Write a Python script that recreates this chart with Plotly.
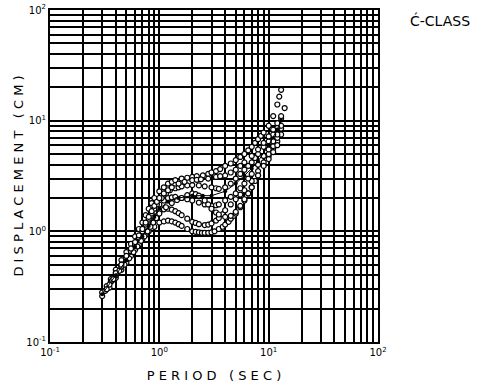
import plotly.graph_objects as go

# ---- data (period in sec, displacement in cm) ----
s1_x = [0.3, 0.33, 0.36, 0.4, 0.45, 0.5, 0.55, 0.6, 0.65, 0.7, 0.75, 0.8, 0.85, 0.9, 1.0, 1.1, 1.2, 1.3, 1.4, 1.6, 1.8, 2.0, 2.2, 2.5, 2.8, 3.0, 3.3, 3.6, 4.0, 4.5, 5.0, 5.5, 6.0, 6.5, 7.0, 7.5, 8.0, 8.5, 9.0, 10, 11, 12, 12.5, 13]
s1_y = [0.28, 0.32, 0.37, 0.45, 0.55, 0.65, 0.77, 0.9, 1.05, 1.2, 1.4, 1.6, 1.8, 2.0, 2.3, 2.5, 2.7, 2.8, 2.9, 3.0, 3.05, 3.1, 3.15, 3.2, 3.3, 3.4, 3.5, 3.65, 3.9, 4.1, 4.4, 4.7, 5.0, 5.4, 5.8, 6.3, 6.8, 7.3, 7.8, 9.0, 11.0, 14.0, 16.5, 19.0]

s2_x = [0.3, 0.35, 0.4, 0.45, 0.5, 0.55, 0.6, 0.65, 0.7, 0.75, 0.8, 0.9, 1.0, 1.1, 1.2, 1.3, 1.4, 1.5, 1.6, 1.8, 2.0, 2.15, 2.3, 2.45, 2.6, 2.8, 3.0, 3.2, 3.5, 3.8, 4.0, 4.3, 4.5, 4.8, 5.0, 5.5, 6.0, 6.5, 7.0, 7.5, 8.0, 9.0, 10, 11, 12, 13]
s2_y = [0.26, 0.31, 0.38, 0.45, 0.52, 0.6, 0.68, 0.76, 0.85, 0.93, 1.0, 1.1, 1.2, 1.23, 1.25, 1.23, 1.2, 1.16, 1.12, 1.05, 1.0, 0.99, 0.98, 0.97, 0.97, 0.97, 0.98, 1.0, 1.05, 1.1, 1.15, 1.22, 1.3, 1.38, 1.45, 1.65, 1.9, 2.2, 2.5, 2.85, 3.2, 4.0, 4.8, 5.6, 6.5, 7.5]

s3_x = [0.32, 0.36, 0.4, 0.45, 0.5, 0.55, 0.6, 0.65, 0.7, 0.75, 0.8, 0.85, 0.9, 1.0, 1.1, 1.2, 1.3, 1.4, 1.5, 1.6, 1.8, 2.0, 2.15, 2.3, 2.6, 2.8, 3.0, 3.3, 3.5, 3.8, 4.0, 4.5, 5.0, 5.5, 6.0, 7.0, 8.0, 9.0, 10, 11, 12, 13]
s3_y = [0.29, 0.35, 0.42, 0.5, 0.58, 0.68, 0.78, 0.87, 0.95, 1.05, 1.15, 1.25, 1.35, 1.5, 1.58, 1.6, 1.57, 1.52, 1.46, 1.4, 1.3, 1.22, 1.19, 1.16, 1.14, 1.15, 1.18, 1.25, 1.32, 1.43, 1.55, 1.75, 1.95, 2.15, 2.35, 2.85, 3.5, 4.2, 5.0, 5.9, 7.0, 8.5]

s4_x = [0.33, 0.37, 0.4, 0.45, 0.5, 0.55, 0.6, 0.65, 0.7, 0.75, 0.8, 0.85, 0.9, 1.0, 1.1, 1.2, 1.3, 1.4, 1.6, 1.8, 2.0, 2.3, 2.6, 3.0, 3.3, 3.5, 4.0, 4.5, 5.0, 5.5, 6.0, 6.5, 7.0, 8.0, 9.0, 10, 11, 12, 13]
s4_y = [0.3, 0.36, 0.4, 0.48, 0.56, 0.66, 0.75, 0.86, 0.98, 1.1, 1.25, 1.38, 1.5, 1.75, 1.9, 2.0, 2.03, 2.05, 2.0, 1.95, 1.9, 1.82, 1.75, 1.7, 1.72, 1.75, 1.9, 2.05, 2.2, 2.45, 2.7, 3.0, 3.3, 4.0, 4.8, 5.5, 6.5, 7.5, 9.0]

s5_x = [0.35, 0.4, 0.45, 0.5, 0.55, 0.6, 0.65, 0.7, 0.75, 0.8, 0.85, 0.9, 0.95, 1.05, 1.15, 1.25, 1.4, 1.5, 1.6, 1.8, 2.0, 2.3, 2.6, 3.0, 3.3, 3.5, 4.0, 4.5, 5.0, 5.5, 6.0, 6.5, 7.0, 7.5, 8.0, 9.0, 10, 11, 12, 13]
s5_y = [0.33, 0.4, 0.48, 0.57, 0.66, 0.77, 0.88, 1.0, 1.15, 1.3, 1.45, 1.6, 1.75, 2.0, 2.2, 2.35, 2.45, 2.5, 2.55, 2.6, 2.62, 2.6, 2.55, 2.5, 2.45, 2.42, 2.5, 2.7, 3.0, 3.3, 3.6, 3.9, 4.2, 4.6, 5.0, 5.8, 6.5, 7.5, 8.6, 10.5]

s6_x = [0.38, 0.43, 0.48, 0.53, 0.58, 0.63, 0.68, 0.73, 0.78, 0.83, 0.88, 0.94, 1.0, 1.15, 1.3, 1.45, 1.6, 1.8, 2.0, 2.15, 2.3, 2.6, 2.8, 3.0, 3.3, 3.5, 4.0, 4.5, 5.0, 5.5, 6.0, 6.5, 7.0, 8.0, 9.0, 10, 11, 12]
s6_y = [0.37, 0.44, 0.5, 0.57, 0.65, 0.73, 0.82, 0.9, 1.0, 1.1, 1.2, 1.32, 1.45, 1.65, 1.8, 1.92, 2.0, 2.12, 2.2, 2.17, 2.1, 1.9, 1.75, 1.6, 1.48, 1.42, 1.35, 1.38, 1.5, 1.7, 1.95, 2.2, 2.5, 3.2, 3.9, 4.5, 5.2, 6.0]

s7_x = [0.4, 0.45, 0.5, 0.55, 0.6, 0.65, 0.7, 0.75, 0.8, 0.85, 0.9, 0.95, 1.0, 1.1, 1.2, 1.3, 1.5, 1.7, 2.0, 2.2, 2.4, 2.8, 3.3, 3.6, 4.0, 4.5, 5.0, 5.5, 6.0, 7.0, 8.0, 9.0, 10, 11, 12, 13, 14]
s7_y = [0.42, 0.5, 0.6, 0.7, 0.8, 0.92, 1.05, 1.2, 1.35, 1.52, 1.7, 1.85, 2.0, 2.2, 2.35, 2.5, 2.7, 2.8, 2.9, 2.92, 2.95, 3.0, 3.1, 3.15, 3.2, 3.4, 3.6, 3.9, 4.2, 4.8, 5.5, 6.3, 7.2, 8.3, 9.5, 11.0, 13.0]

mean_x = [0.3, 0.4, 0.5, 0.6, 0.7, 0.8, 0.9, 1.0, 1.2, 1.5, 2.0, 2.5, 3.0, 4.0, 5.0, 6.0, 7.0, 8.0, 10, 12, 13]
mean_y = [0.27, 0.4, 0.55, 0.72, 0.9, 1.12, 1.35, 1.6, 1.85, 2.0, 2.1, 2.1, 2.1, 2.3, 2.7, 3.2, 3.7, 4.3, 6.0, 8.3, 10.0]

grid_vals = [0.1, 0.2, 0.3, 0.4, 0.5, 0.6, 0.7, 0.8, 0.9,
             1, 2, 3, 4, 5, 6, 7, 8, 9,
             10, 20, 30, 40, 50, 60, 70, 80, 90, 100]
decade_labels = {0.1: "10<sup>-1</sup>", 1: "10<sup>0</sup>", 10: "10<sup>1</sup>", 100: "10<sup>2</sup>"}
tick_text = [decade_labels.get(v, "") for v in grid_vals]

series = [(s1_x, s1_y), (s2_x, s2_y), (s3_x, s3_y), (s4_x, s4_y),
          (s5_x, s5_y), (s6_x, s6_y), (s7_x, s7_y)]

fig = go.Figure()
for sx, sy in series:
    fig.add_trace(go.Scatter(
        x=sx, y=sy, mode="markers",
        marker=dict(symbol="circle", size=5, color="white",
                    line=dict(color="black", width=1.2)),
        showlegend=False, hoverinfo="skip"))

fig.add_trace(go.Scatter(
    x=mean_x, y=mean_y, mode="lines+markers",
    line=dict(color="black", width=1),
    marker=dict(symbol="circle", size=4, color="black"),
    showlegend=False, hoverinfo="skip"))

font_family = "DejaVu Sans"
axis_common = dict(
    type="log", tickmode="array", tickvals=grid_vals, ticktext=tick_text,
    showgrid=True, gridcolor="black", gridwidth=1.6,
    showline=True, linecolor="black", linewidth=2, mirror=True,
    ticks="", zeroline=False, automargin=False,
    tickfont=dict(family=font_family, size=10, color="black"),
)

fig.update_xaxes(range=[-1, 2], **axis_common,
                 title=dict(text="P E R I O D   ( S E C )",
                            font=dict(family=font_family, size=13, color="black"),
                            standoff=14))
fig.update_yaxes(range=[-1, 2], **axis_common,
                 title=dict(text="D I S P L A C E M E N T   ( C M )",
                            font=dict(family=font_family, size=13, color="black"),
                            standoff=0))

fig.add_annotation(text="Ć-CLASS", xref="paper", yref="paper",
                   x=1.0, y=1.0, xanchor="left", yanchor="top",
                   xshift=30, yshift=0, showarrow=False,
                   font=dict(family=font_family, size=14, color="black"))

fig.update_layout(
    width=485, height=387,
    margin=dict(l=50, r=107, t=10, b=45),
    paper_bgcolor="white", plot_bgcolor="white",
)

fig.write_html("out.html",
               config={"displayModeBar": False},
               post_script="document.body.style.margin='0';document.body.style.padding='0';")
